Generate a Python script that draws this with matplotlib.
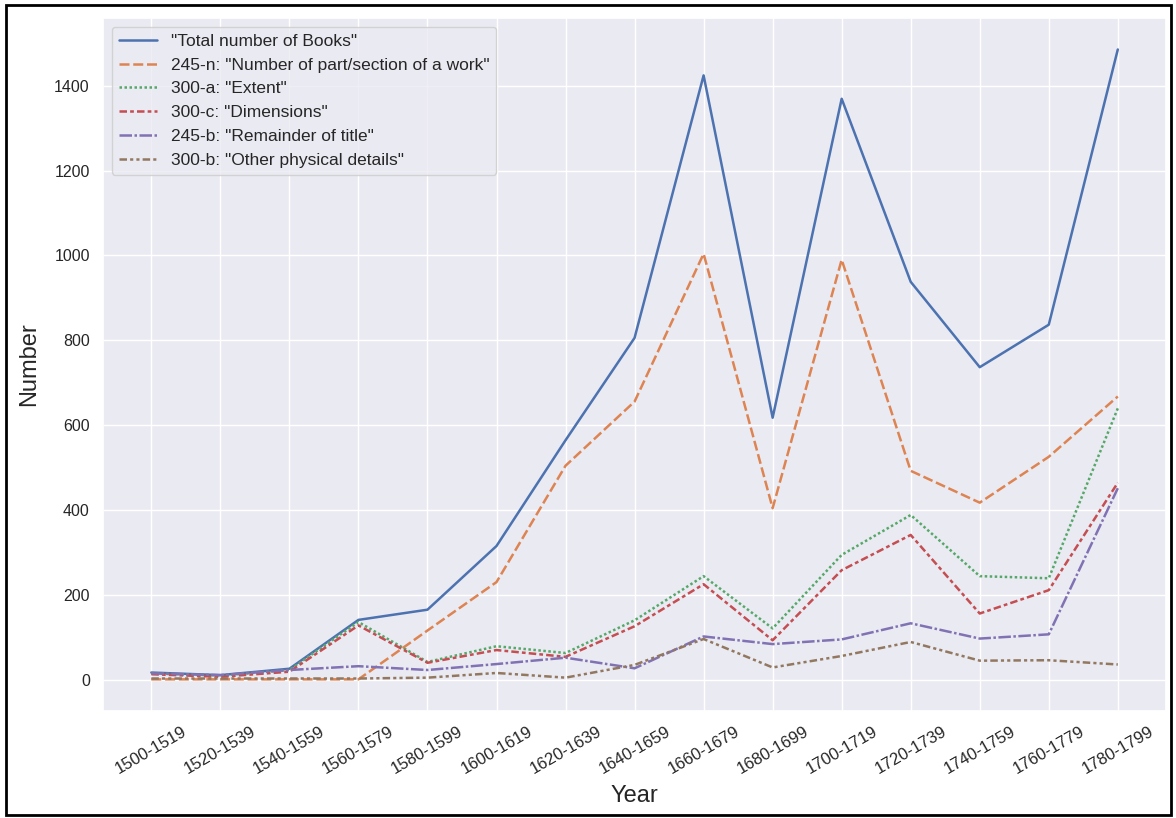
import matplotlib
matplotlib.use("Agg")
import matplotlib.pyplot as plt
import seaborn as sns
import pandas as pd
from matplotlib.patches import Rectangle

years = ["1500-1519", "1520-1539", "1540-1559", "1560-1579", "1580-1599",
         "1600-1619", "1620-1639", "1640-1659", "1660-1679", "1680-1699",
         "1700-1719", "1720-1739", "1740-1759", "1760-1779", "1780-1799"]

total_books = [18, 12, 27, 142, 166, 316, 565, 806, 1424, 618, 1369, 938, 737, 837, 1485]
n245 = [2, 2, 2, 2, 117, 231, 505, 656, 1004, 405, 990, 493, 418, 526, 668]
a300 = [16, 11, 24, 137, 43, 80, 64, 141, 245, 122, 295, 389, 245, 240, 640]
c300 = [14, 8, 20, 129, 41, 71, 55, 127, 226, 94, 259, 342, 157, 212, 465]
b245 = [16, 12, 24, 33, 24, 38, 53, 28, 103, 85, 96, 134, 98, 108, 452]
b300 = [4, 4, 4, 4, 6, 17, 6, 36, 97, 30, 57, 90, 46, 47, 37]

labels = ['"Total number of Books"',
          '245-n: "Number of part/section of a work"',
          '300-a: "Extent"',
          '300-c: "Dimensions"',
          '245-b: "Remainder of title"',
          '300-b: "Other physical details"']

df = pd.DataFrame({
    labels[0]: total_books,
    labels[1]: n245,
    labels[2]: a300,
    labels[3]: c300,
    labels[4]: b245,
    labels[5]: b300,
}, index=years)

sns.set_theme(style="darkgrid")
plt.rcParams['font.family'] = ['Liberation Sans', 'DejaVu Sans']

fig = plt.figure(figsize=(11.76, 8.18), dpi=100)
ax = fig.add_axes([0.0876, 0.131, 0.904, 0.847])
sns.lineplot(data=df, ax=ax, linewidth=1.8)
ax.set_xticks(range(len(years)))
ax.set_xticklabels(years, rotation=30, fontsize=12)
ax.tick_params(axis='y', labelsize=11.5)
ax.set_xlabel("Year", fontsize=17, labelpad=6)
ax.set_ylabel("Number", fontsize=17, labelpad=10)
leg = ax.legend(loc="upper left", fontsize=12.5, handlelength=2.2)

fig.patches.append(Rectangle((0.005, 0.004), 0.991, 0.99, transform=fig.transFigure,
                             fill=False, edgecolor='black', linewidth=2))
fig.savefig("out.png", dpi=100)
